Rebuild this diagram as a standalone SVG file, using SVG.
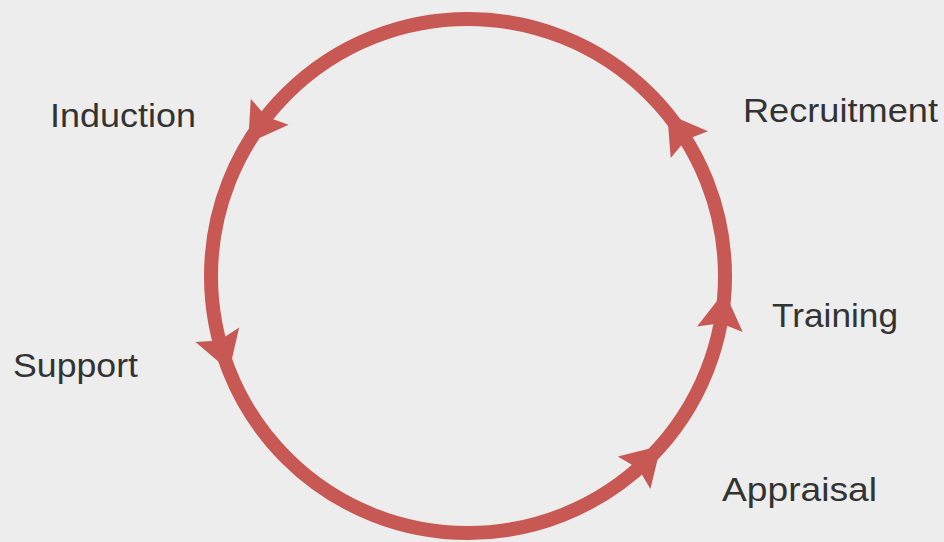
<svg xmlns="http://www.w3.org/2000/svg" width="944" height="542" viewBox="0 0 944 542">
<style>
.lbl{font-family:"Liberation Sans",Arial,sans-serif;font-size:33px;fill:#333333}
.ring{fill:none;stroke:#c75854;stroke-width:14}
.head{fill:#c75854}
</style>
<defs>
<path id="ah" d="M38,0 L0,-23 L6,0 L0,23 Z"/>
</defs>
<rect width="944" height="542" fill="#ededed"/>
<g id="connectors">
<circle class="ring" cx="468" cy="276" r="257"/>
<use href="#ah" class="head" transform="translate(266.3,116.7) rotate(124.6) translate(-6,0)"/>
<use href="#ah" class="head" transform="translate(685.9,139.8) rotate(234.3) translate(-6,0)"/>
<use href="#ah" class="head" transform="translate(720.6,323.3) rotate(-83.1) translate(-6,0)"/>
<use href="#ah" class="head" transform="translate(638.3,468.5) rotate(-45.2) translate(-6,0)"/>
<use href="#ah" class="head" transform="translate(219.2,340.4) rotate(71.8) translate(-6,0)"/>
</g>
<g id="induction"><text class="lbl" x="50" y="127" textLength="146" lengthAdjust="spacingAndGlyphs">Induction</text></g>
<g id="recruitment"><text class="lbl" x="743" y="122" textLength="195" lengthAdjust="spacingAndGlyphs">Recruitment</text></g>
<g id="training"><text class="lbl" x="772" y="327" textLength="126" lengthAdjust="spacingAndGlyphs">Training</text></g>
<g id="support"><text class="lbl" x="13" y="377" textLength="125" lengthAdjust="spacingAndGlyphs">Support</text></g>
<g id="appraisal"><text class="lbl" x="722" y="501" textLength="155" lengthAdjust="spacingAndGlyphs">Appraisal</text></g>
</svg>
